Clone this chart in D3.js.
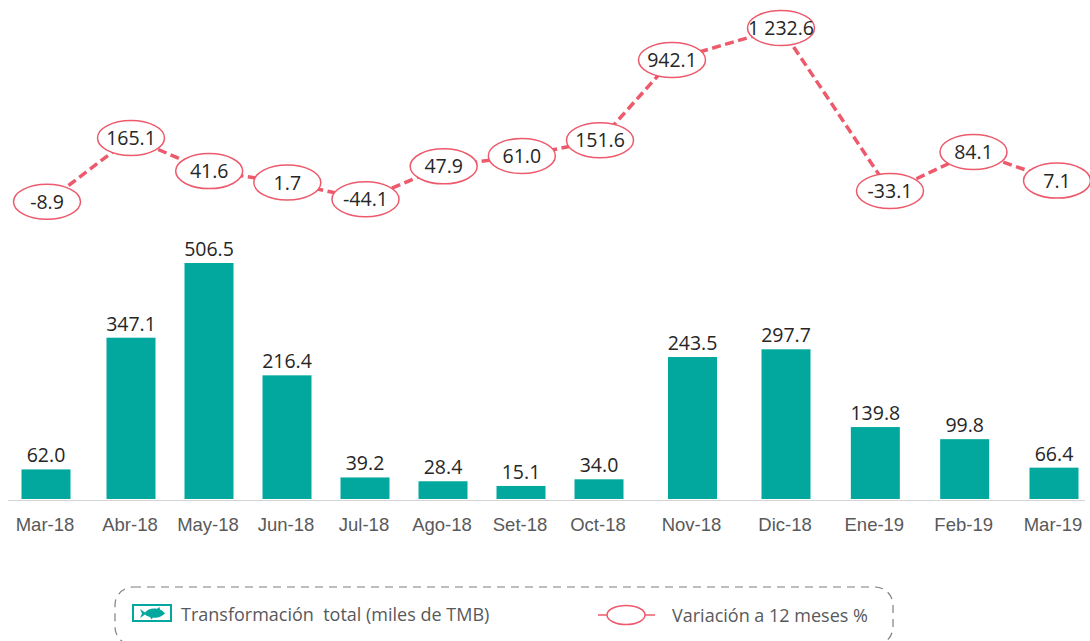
<!DOCTYPE html>
<html>
<head>
<meta charset="utf-8">
<script src="https://cdnjs.cloudflare.com/ajax/libs/d3/7.8.5/d3.min.js"></script>
<style>
  html, body { margin: 0; padding: 0; background: #fff; overflow: hidden; }
  svg { display: block; font-family: "Open Sans", "Noto Sans", sans-serif; }
</style>
</head>
<body>
<div id="chart"></div>
<script>
const months = ["Mar-18", "Abr-18", "May-18", "Jun-18", "Jul-18", "Ago-18", "Set-18", "Oct-18", "Nov-18", "Dic-18", "Ene-19", "Feb-19", "Mar-19"];
const transformacion = [62.0, 347.1, 506.5, 216.4, 39.2, 28.4, 15.1, 34.0, 243.5, 297.7, 139.8, 99.8, 66.4];
const variacion = [-8.9, 165.1, 41.6, 1.7, -44.1, 47.9, 61.0, 151.6, 942.1, 1232.6, -33.1, 84.1, 7.1];
const variacionLabels = ["-8.9", "165.1", "41.6", "1.7", "-44.1", "47.9", "61.0", "151.6", "942.1", "1 232.6", "-33.1", "84.1", "7.1"];

const width = 1090, height = 641;
const teal = "#02a89e", red = "#ec5a6c", ink = "#262626", grey = "#58595b";

const svg = d3.select("#chart").append("svg").attr("width", width).attr("height", height);

// the source is hand laid out: neither axis is even, so both scales are piecewise
const xBar = d3.scaleLinear().domain([0, 1, 7, 9, 12]).range([46, 131, 599, 786, 1054]);
const xLine = d3.scaleLinear().domain([0, 1, 7, 8, 10, 12]).range([47, 131, 600, 672, 890, 1057]);
const yBar = d3.scaleLinear()
  .domain([0, 15, 66, 100, 140, 245, 300, 350, 506.5])
  .range([499, 486, 468, 439, 427, 356, 349, 337, 263]);
const yLine = d3.scaleLinear()
  .domain([-45, -33, -9, 2, 42, 61, 165, 942, 1232.6])
  .range([200, 191, 202, 182, 171, 156, 138, 60, 28]);

const barWidth = 49;

// bars
svg.append("g").selectAll("rect").data(transformacion).join("rect")
  .attr("x", (d, i) => xBar(i) - barWidth / 2)
  .attr("y", d => yBar(d))
  .attr("width", barWidth)
  .attr("height", d => yBar(0) - yBar(d))
  .attr("fill", teal);

svg.append("g").selectAll("text").data(transformacion).join("text")
  .attr("x", (d, i) => xBar(i))
  .attr("y", d => yBar(d) - 7)
  .attr("text-anchor", "middle")
  .attr("font-size", 19.5)
  .attr("fill", ink)
  .text(d => d.toFixed(1));

// baseline
svg.append("line")
  .attr("x1", 8).attr("x2", 1085)
  .attr("y1", yBar(0) + 1.5).attr("y2", yBar(0) + 1.5)
  .attr("stroke", "#d4d4d4").attr("stroke-width", 1);

// month axis
const xAxis = d3.axisBottom(xBar)
  .tickValues(d3.range(months.length))
  .tickFormat(i => months[i])
  .tickSize(0)
  .tickPadding(0);

const gAxis = svg.append("g").attr("transform", "translate(-1.5,518)").call(xAxis);
gAxis.select(".domain").remove();
gAxis.selectAll("text")
  .attr("font-family", "inherit")
  .attr("font-size", 18.5)
  .attr("fill", grey);

// variation line
const line = d3.line()
  .x((d, i) => xLine(i))
  .y(d => yLine(d));

svg.append("path")
  .datum(variacion)
  .attr("d", line)
  .attr("fill", "none")
  .attr("stroke", red)
  .attr("stroke-width", 3.5)
  .attr("stroke-dasharray", "9 4.5");

svg.append("g").selectAll("ellipse").data(variacion).join("ellipse")
  .attr("cx", (d, i) => xLine(i))
  .attr("cy", d => yLine(d))
  .attr("rx", 33.5)
  .attr("ry", 17.5)
  .attr("fill", "#fff")
  .attr("stroke", red)
  .attr("stroke-width", 1.5);

svg.append("g").selectAll("text").data(variacion).join("text")
  .attr("x", (d, i) => xLine(i))
  .attr("y", d => yLine(d) + 7)
  .attr("text-anchor", "middle")
  .attr("font-size", 19.5)
  .attr("fill", ink)
  .text((d, i) => variacionLabels[i]);

// legend
const legend = svg.append("g");

legend.append("rect")
  .attr("x", 115).attr("y", 587)
  .attr("width", 778).attr("height", 58)
  .attr("rx", 18)
  .attr("fill", "none")
  .attr("stroke", "#7f7f7f")
  .attr("stroke-width", 1.2)
  .attr("stroke-dasharray", "8 6");

legend.append("rect")
  .attr("x", 133).attr("y", 605)
  .attr("width", 38).attr("height", 16)
  .attr("fill", "#fff")
  .attr("stroke", teal)
  .attr("stroke-width", 2);

// small fish inside the swatch
legend.append("path")
  .attr("d", "M140 609 L145 612.5 C148 608.5 153 607.8 157 608.8 L159.5 607 L160 609.5 C162 610.5 164 612 165 613.5 C161.5 617 156.5 618.2 153 617.5 L151.5 619.5 L150 617 C148 616.5 146 615.5 145 614.5 L140 618 L142 613.5 Z")
  .attr("fill", teal);

legend.append("text")
  .attr("x", 181).attr("y", 621)
  .attr("font-size", 18)
  .attr("fill", grey)
  .attr("xml:space", "preserve")
  .text("Transformación  total (miles de TMB)");

legend.append("line")
  .attr("x1", 598).attr("x2", 655)
  .attr("y1", 615).attr("y2", 615)
  .attr("stroke", red).attr("stroke-width", 1.5);

legend.append("ellipse")
  .attr("cx", 626).attr("cy", 615)
  .attr("rx", 19).attr("ry", 9.5)
  .attr("fill", "#fff")
  .attr("stroke", red).attr("stroke-width", 1.5);

legend.append("text")
  .attr("x", 672).attr("y", 622)
  .attr("font-size", 18)
  .attr("fill", grey)
  .text("Variación a 12 meses %");
</script>
</body>
</html>
